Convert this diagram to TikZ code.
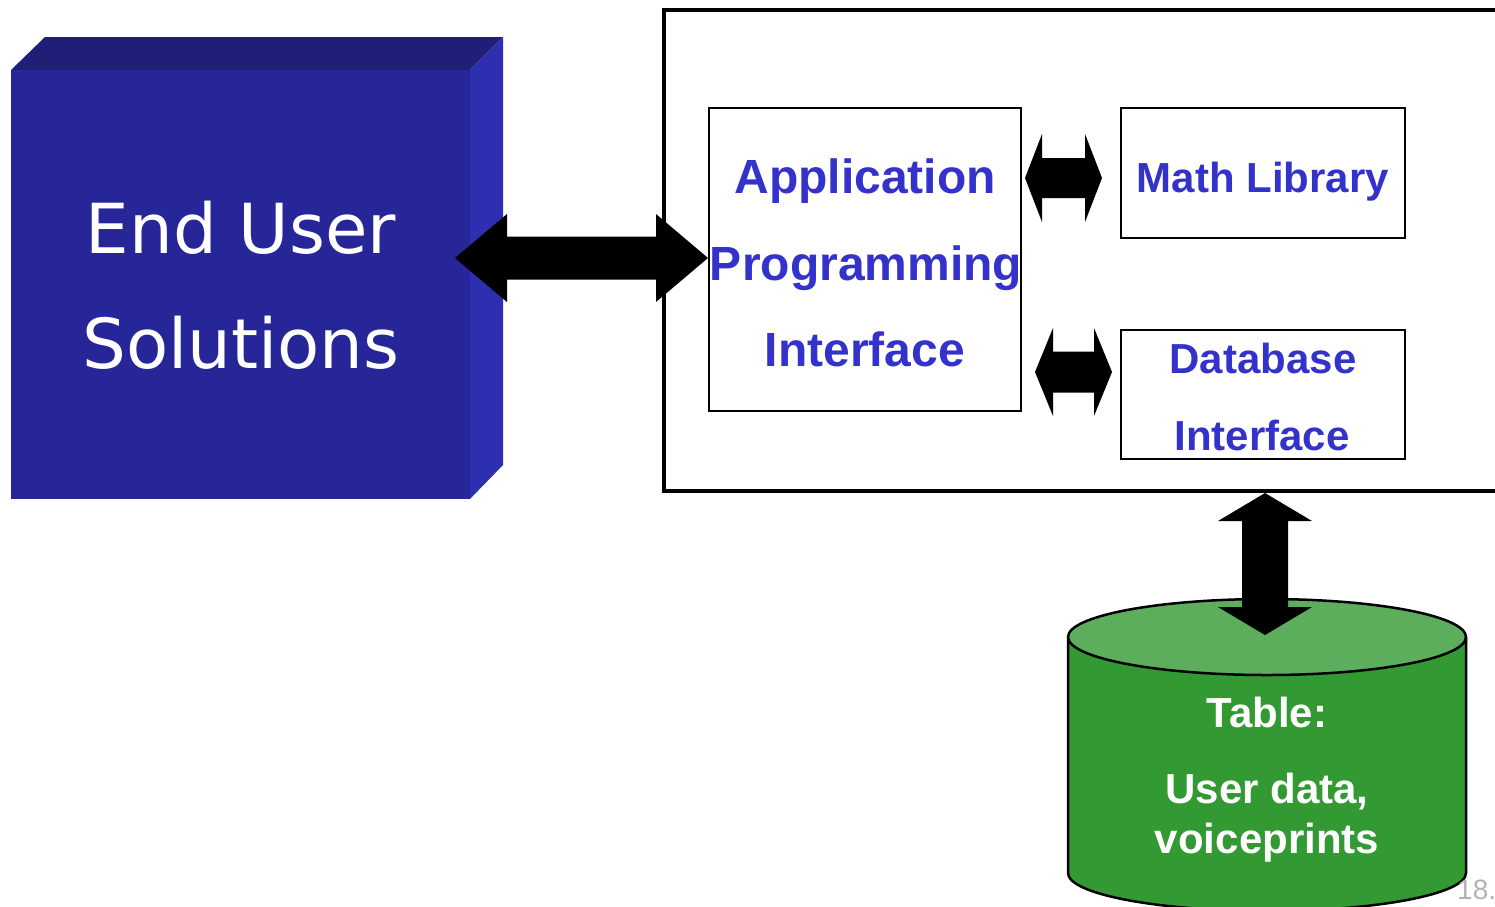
\documentclass[tikz,border=0pt]{standalone}
\usepackage{fontspec}
\setmainfont{Liberation Sans}
\newfontfamily\cubefont{DejaVu Sans}
\usetikzlibrary{calc}
\definecolor{cubefront}{HTML}{262699}
\definecolor{cubetop}{HTML}{1F1F77}
\definecolor{cubeside}{HTML}{2E2EB0}
\definecolor{labelblue}{HTML}{3333CC}
\definecolor{cylbody}{HTML}{339933}
\definecolor{cyltop}{HTML}{5CAD5C}
\definecolor{pagegray}{HTML}{B4B4B4}
\newcommand\hblockarrow[5]{\fill[blockarrow] (#1) -- ($(#1)+(#3,-#4)$) -- ($(#1)+(#3,-#5)$) -- ($(#2)+(-#3,-#5)$) -- ($(#2)+(-#3,-#4)$) -- (#2) -- ($(#2)+(-#3,#4)$) -- ($(#2)+(-#3,#5)$) -- ($(#1)+(#3,#5)$) -- ($(#1)+(#3,#4)$) -- cycle;}
\newcommand\vblockarrow[5]{\fill[blockarrow] (#1) -- ($(#1)+(#4,#3)$) -- ($(#1)+(#5,#3)$) -- ($(#2)+(#5,-#3)$) -- ($(#2)+(#4,-#3)$) -- (#2) -- ($(#2)+(-#4,-#3)$) -- ($(#2)+(-#5,-#3)$) -- ($(#1)+(-#5,#3)$) -- ($(#1)+(-#4,#3)$) -- cycle;}
\begin{document}
\begin{tikzpicture}[x=1pt,y=-1pt,
  blockarrow/.style={fill=black},
  box/.style={draw=black,line width=2pt,fill=white,inner sep=0pt},
  bluebig/.style={anchor=base,inner sep=0pt,text=labelblue,font=\fontsize{48}{48}\selectfont\bfseries},
  bluesmall/.style={anchor=base,inner sep=0pt,text=labelblue,font=\fontsize{42}{42}\selectfont\bfseries},
  cubetext/.style={anchor=base,inner sep=0pt,text=white,font=\cubefont\fontsize{69}{69}\selectfont},
  cyltext/.style={anchor=base,inner sep=0pt,text=white,font=\fontsize{42}{42}\selectfont\bfseries},
  cylline/.style={draw=black,line width=2.5pt}]
\useasboundingbox (0,0) rectangle (1495,906);
\fill[white] (0,0) rectangle (1495,906);

% cube "End User Solutions"
\fill[cubetop] (11,70) -- (45,37) -- (503,37) -- (470,70) -- cycle;
\fill[cubeside] (470,70) -- (503,37) -- (503,465) -- (470,499) -- cycle;
\node[fill=cubefront,inner sep=0pt,minimum width=459pt,minimum height=429pt] (eus) at (240.5,284.5) {};
\node[cubetext] (eus1) at (241,253) {End User};
\node[cubetext] (eus2) at (241,368) {Solutions};

% outer system box
\node[draw=black,line width=4pt,inner sep=0pt,minimum width=836pt,minimum height=481pt] (sys) at (1082,250.5) {};

% inner boxes
\node[box,minimum width=312pt,minimum height=303pt] (api) at (865,259.5) {};
\node[bluebig] (api1) at (865,193) {Application};
\node[bluebig] (api2) at (866,280) {Programming};
\node[bluebig] (api3) at (865,366) {Interface};

\node[box,minimum width=284pt,minimum height=130pt] (math) at (1263,173) {};
\node[bluesmall] (math1) at (1263,192) {Math Library};

\node[box,minimum width=284pt,minimum height=129pt] (db) at (1263,394.5) {};
\node[bluesmall] (db1) at (1263,373) {Database};
\node[bluesmall] (db2) at (1262,450) {Interface};

% cylinder "Table"
\fill[cylbody] (1068,637) -- (1068,873) arc[start angle=180,end angle=0,x radius=199,y radius=38] -- (1466,637) -- cycle;
\draw[cylline] (1068,637) -- (1068,873) arc[start angle=180,end angle=0,x radius=199,y radius=38] -- (1466,637);
\filldraw[fill=cyltop,cylline] (1267,637) ellipse [x radius=199, y radius=38];
\coordinate (tbl) at (1267,637);
\node[cyltext] (tbl1) at (1267,727) {Table:};
\node[cyltext] (tbl2) at (1267,803) {User data,};
\node[cyltext] (tbl3) at (1267,853) {voiceprints};

% connectors
\coordinate (eustip) at (455,258);
\coordinate (apitip) at (api.west |- eustip);
\hblockarrow{eustip}{apitip}{52}{44}{21.5}

\coordinate (m1) at (1025,178);
\coordinate (m2) at (1102,178);
\hblockarrow{m1}{m2}{17}{44}{20}

\coordinate (d1) at (1035,372);
\coordinate (d2) at (1112,372);
\hblockarrow{d1}{d2}{18}{44}{20.5}

\coordinate (vt) at (1265,493);
\coordinate (vb) at (1265,635);
\vblockarrow{vt}{vb}{28}{47}{23}

% page number
\node[anchor=base west,inner sep=0pt,text=pagegray,font=\fontsize{28}{28}\selectfont] (pg) at (1457,899) {18.};
\end{tikzpicture}
\end{document}
